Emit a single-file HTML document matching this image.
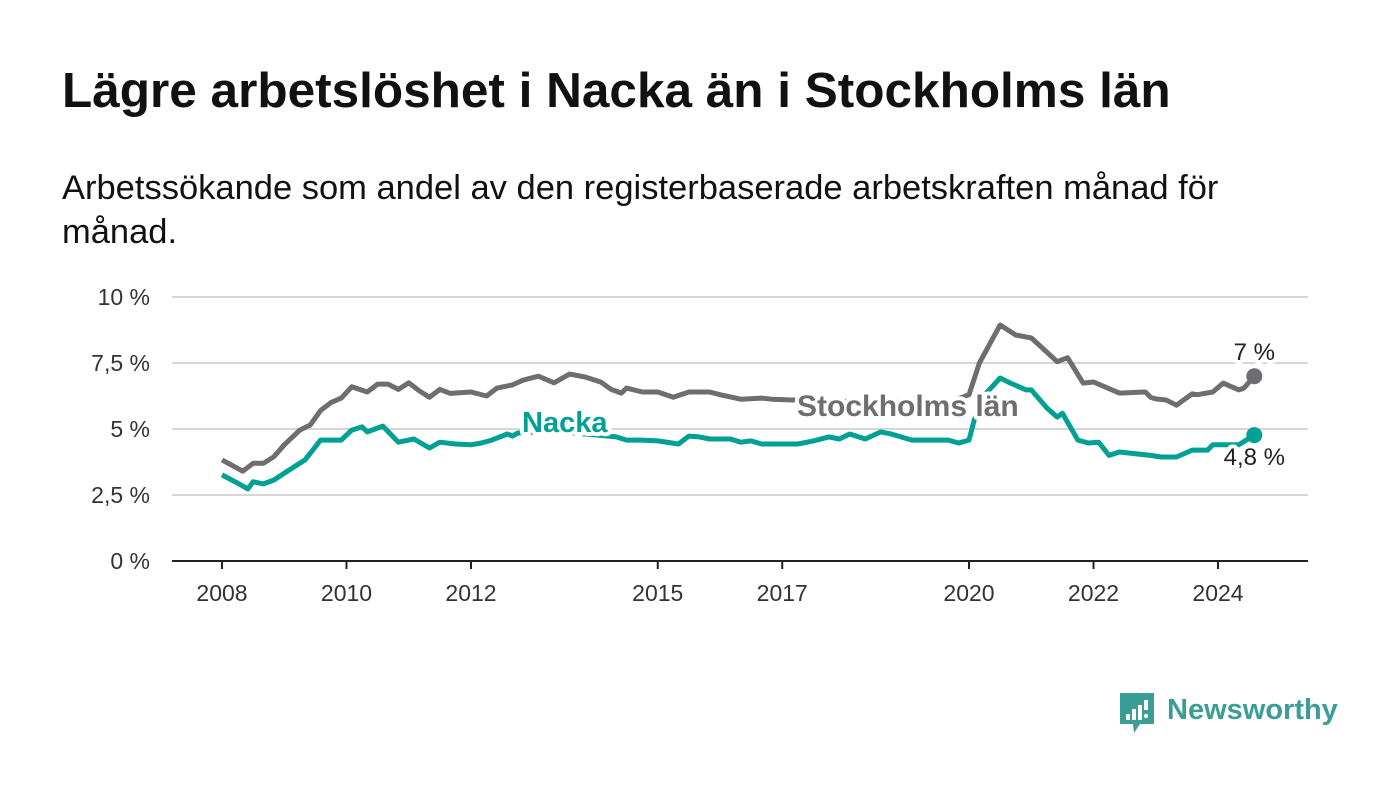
<!DOCTYPE html>
<html><head><meta charset="utf-8"><style>
body{margin:0;width:1400px;height:794px;background:#fff;font-family:"Liberation Sans",sans-serif;overflow:hidden;position:relative}
h1{position:absolute;left:62px;top:62px;margin:0;font-size:49.5px;font-weight:bold;color:#111;white-space:nowrap}
p.sub{position:absolute;left:62px;top:166px;margin:0;font-size:34.5px;line-height:44px;color:#111;width:1250px}
svg{position:absolute;left:0;top:0}
</style></head><body>
<h1>Lägre arbetslöshet i Nacka än i Stockholms län</h1>
<p class="sub">Arbetssökande som andel av den registerbaserade arbetskraften månad för månad.</p>
<svg id="chart" width="1400" height="794"></svg>
<script>
const yTicks=[0,2.5,5,7.5,10];
const yTickLabels=["0 %","2,5 %","5 %","7,5 %","10 %"];
const xTicks=[2008,2010,2012,2015,2017,2020,2022,2024];
const sthlmMonths=[0,4,6,8,10,12,15,17,19,21,23,25,28,30,32,34,36,38,40,42,44,48,51,53,56,58,61,64,67,70,73,75,77,78,81,84,87,90,94,96,100,104,106,110,115,125,135,140,144,146,150,153,156,161,163,166,168,173,178,179,180,182,184,187,188,191,193,196,197,199];
const sthlmValues=[3.83,3.4,3.7,3.7,3.95,4.4,4.96,5.15,5.7,6.0,6.17,6.6,6.4,6.7,6.7,6.5,6.75,6.45,6.2,6.5,6.35,6.4,6.25,6.55,6.67,6.85,7.0,6.75,7.08,6.97,6.78,6.5,6.36,6.55,6.4,6.4,6.2,6.4,6.4,6.3,6.13,6.17,6.13,6.1,6.1,6.0,6.05,6.0,6.3,7.5,8.94,8.56,8.45,7.55,7.7,6.74,6.78,6.36,6.4,6.2,6.14,6.1,5.9,6.33,6.3,6.4,6.74,6.48,6.55,7.0];
const nackaMonths=[0,3,5,6,8,10,13,16,19,23,25,27,28,31,34,37,40,42,45,48,50,52,55,56,57,62,68,76,78,81,84,88,90,92,94,98,100,102,104,111,114,117,119,121,124,127,129,133,140,142,144,145,147,150,152,155,156,159,161,162,165,167,169,171,173,179,181,184,187,190,191,196,199];
const nackaValues=[3.26,2.95,2.73,3.0,2.92,3.07,3.45,3.83,4.58,4.58,4.96,5.08,4.89,5.11,4.5,4.62,4.28,4.5,4.43,4.4,4.47,4.58,4.81,4.73,4.85,4.9,4.85,4.7,4.58,4.58,4.55,4.43,4.73,4.7,4.62,4.62,4.5,4.55,4.43,4.43,4.55,4.7,4.62,4.81,4.62,4.89,4.81,4.58,4.58,4.47,4.58,5.34,6.29,6.93,6.74,6.48,6.48,5.8,5.45,5.6,4.58,4.47,4.5,4.0,4.13,4.0,3.94,3.94,4.2,4.2,4.4,4.4,4.77];
const NS="http://www.w3.org/2000/svg";
const svg=document.getElementById('chart');
const X=m=>222+m*62.25/12, XY=y=>222+(y-2008)*62.25, Y=v=>561-v*26.4;
function mk(t,a,p){const e=document.createElementNS(NS,t);for(const k in a)e.setAttribute(k,a[k]);(p||svg).appendChild(e);return e;}
yTicks.forEach((v,i)=>{
 const l=mk('line',{x1:172,x2:1308,y1:Y(v),y2:Y(v),stroke:v===0?'#222':'#d6d6d6','stroke-width':2});
 
 
 const t=mk('text',{x:150,y:Y(v)+8,'text-anchor':'end','font-size':23,fill:'#333'});
 t.textContent=yTickLabels[i];
 
 
});
xTicks.forEach(yr=>{
 const l=mk('line',{x1:XY(yr),x2:XY(yr),y1:561,y2:569,stroke:'#222','stroke-width':2});
 
 
 const t=mk('text',{x:XY(yr),y:601,'text-anchor':'middle','font-size':23,fill:'#333'});
 t.textContent=yr;
 
 
});
function line(ms,vs,col,name){
 const d=ms.map((m,i)=>(i?'L':'M')+X(m).toFixed(1)+','+Y(vs[i]).toFixed(1)).join('');
 const p=mk('path',{d:d,fill:'none',stroke:col,'stroke-width':5,'stroke-linejoin':'round'});
 
 
 const n=ms.length-1;
 const c=mk('circle',{cx:X(ms[n]),cy:Y(vs[n]),r:8,fill:col});
 
 
 return [X(ms[n]),Y(vs[n])];
}
const s=line(sthlmMonths,sthlmValues,'#6e6d72','stockholm-line');
const nk=line(nackaMonths,nackaValues,'#00a094','nacka-line');
function lab(txt,x,y,col,size,weight,name,anchor){
 const t=mk('text',{x:x,y:y,'font-size':size,'font-weight':weight,fill:col,stroke:'#fff','stroke-width':8,'paint-order':'stroke','stroke-linejoin':'round','text-anchor':anchor||'start'});
 t.textContent=txt;
 
 
}
lab('Nacka',522,432,'#00a094',29,'bold','nacka-label');
lab('Stockholms län',797,416,'#6e6d72',30,'bold','stockholm-label');
lab('7 %',s[0],s[1]-16,'#222',24,'normal','stockholm-end-value','middle');
lab('4,8 %',nk[0],nk[1]+30,'#222',24,'normal','nacka-end-value','middle');
const g=mk('g',{});


mk('path',{d:'M1120,693h34v31h-14l-6,9l-1,-9h-13z',fill:'#3a9e96'},g);
[[1126,714,4,6],[1132,709,4,11],[1138,705,4,15],[1144,700,4,10]].forEach(r=>mk('rect',{x:r[0],y:r[1],width:r[2],height:r[3],fill:'#fff'},g));
mk('circle',{cx:1146,cy:716,r:2.2,fill:'#fff'},g);
const lt=mk('text',{x:1167,y:719,'font-size':29,'font-weight':'bold',fill:'#3a9e96'},g);
lt.textContent='Newsworthy';
</script>
</body></html>
